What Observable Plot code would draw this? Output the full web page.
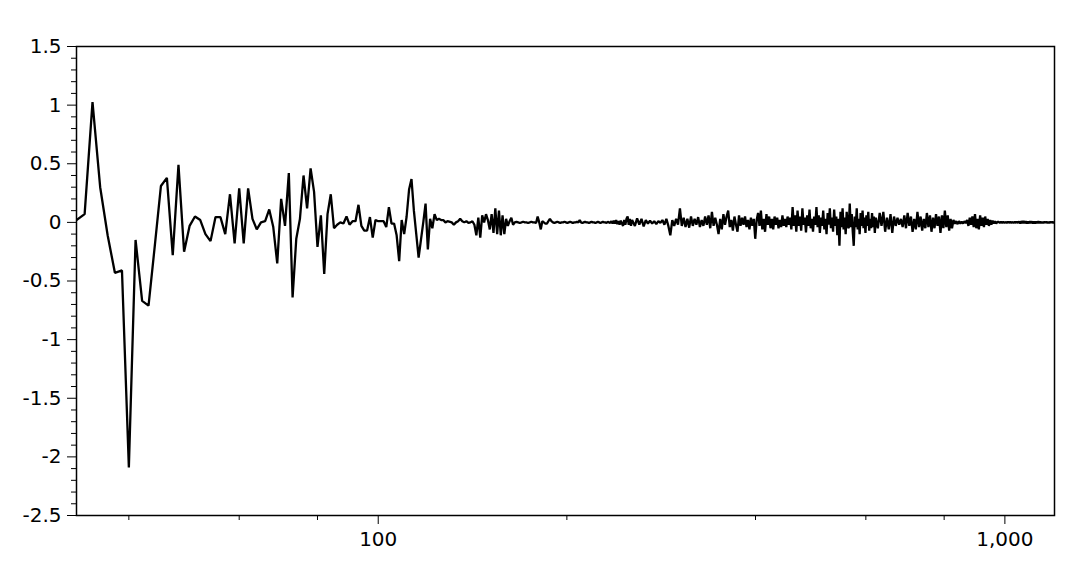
<!DOCTYPE html>
<html>
<head>
<meta charset="utf-8">
<script src="https://cdn.jsdelivr.net/npm/d3@7"></script>
<script src="https://cdn.jsdelivr.net/npm/@observablehq/plot@0.6"></script>
<style>
  html, body { margin: 0; padding: 0; background: #fff; }
</style>
</head>
<body>
<div id="chart"></div>
<script>
// Segment start x-values and sampling steps (x positions of the series)
const segStarts = [33, 131, 256.8, 627];
const segSteps  = [1, 1.035, 2.1, 4.27];

// x = 33 .. 129
const segA = [0.02,0.07,1.025,0.30,-0.11,-0.43,-0.41,-2.09,-0.15,-0.67,
  -0.71,-0.2,0.31,0.38,-0.28,0.49,-0.25,-0.03,0.05,0.02,
  -0.10,-0.16,0.045,0.045,-0.10,0.24,-0.18,0.29,-0.18,0.29,
  0.03,-0.06,0.00,0.01,0.11,-0.04,-0.35,0.2,-0.03,0.42,
  -0.64,-0.14,0.03,0.40,0.12,0.46,0.26,-0.21,0.06,-0.44,
  0.07,0.24,-0.05,-0.02,0.0,-0.01,0.05,-0.02,0.01,0.01,
  0.15,-0.03,-0.07,-0.07,0.045,-0.13,0.02,0.01,0.01,0.01,
  -0.04,0.13,-0.01,-0.01,-0.11,-0.33,0.02,-0.1,0.05,0.28,
  0.37,0.1,-0.1,-0.30,-0.15,0.0,0.16,-0.23,0.03,-0.05,
  0.07,0.02,0.03,0.02,0.02,0.0,0.01];

// x ≈ 131 .. 254
const segB = [0.0,-0.02,0.0,0.01,0.03,0.01,0.0,0.01,-0.005,0.0,
  0.01,-0.02,-0.11,0.04,-0.13,0.06,0.0,0.07,0.02,-0.06,
  0.07,-0.09,0.12,-0.10,0.10,-0.11,0.06,-0.10,0.03,-0.03,
  0.01,0.04,-0.02,0.0,0.005,0.0,-0.005,0.0,0.005,0.0,
  0.0,-0.005,0.0,0.005,0.0,0.0,-0.005,0.05,0.0,-0.06,
  0.01,0.0,-0.01,-0.01,0.01,0.03,0.01,0.0,-0.005,0.0,
  0.005,0.0,-0.005,0.0,0.0,0.005,0.0,-0.005,0.0,0.005,
  0.0,-0.005,0.0,0.0,0.005,0.0,0.02,0.0,-0.005,0.0,
  0.005,0.0,0.0,-0.005,0.0,0.005,0.0,0.0,-0.005,0.0,
  0.005,0.0,-0.005,0.0,0.005,0.0,0.0,-0.005,0.005,0.0,
  -0.005,0.01,-0.01,0.015,-0.01,0.02,-0.015,0.01,-0.02,0.015,
  -0.01,-0.03,0.02,-0.02,0.03,0.05,-0.02,0.03,-0.03,0.02];

// x ≈ 257 .. 622
const segC = [-0.03,0.035,-0.02,0.03,-0.035,0.02,-0.01,0.015,-0.01,0.01,
  -0.015,0.01,-0.005,0.02,-0.02,0.03,-0.03,-0.11,0.02,-0.03,
  0.03,-0.02,0.12,-0.03,0.04,-0.04,0.03,-0.045,0.05,-0.03,
  0.03,-0.02,0.045,-0.04,0.02,-0.03,0.05,-0.02,0.06,-0.05,
  0.09,-0.03,0.04,-0.02,-0.10,0.03,-0.06,0.07,-0.02,0.05,
  0.10,-0.04,0.02,-0.07,0.05,-0.02,-0.08,0.06,-0.03,0.04,
  -0.02,0.05,-0.04,0.02,-0.06,0.04,-0.03,0.03,-0.14,0.02,
  0.08,-0.03,0.10,-0.06,0.03,-0.08,0.07,-0.02,0.05,-0.05,
  0.03,-0.06,0.05,-0.02,0.04,-0.05,0.02,-0.04,0.06,-0.03,
  0.03,-0.04,0.05,-0.02,0.04,-0.06,0.13,-0.03,0.06,-0.08,
  0.10,-0.03,0.05,-0.07,0.12,-0.02,0.04,-0.085,0.06,-0.03,
  0.11,-0.05,0.03,-0.08,0.05,-0.02,0.13,-0.04,0.06,-0.09,
  0.04,-0.03,0.10,-0.06,0.03,-0.10,0.08,-0.02,0.12,-0.05,
  0.04,-0.08,0.11,-0.03,0.05,-0.11,0.03,-0.20,0.09,-0.04,
  0.12,-0.06,0.04,-0.10,0.09,-0.03,-0.05,0.16,-0.04,0.07,
  -0.08,-0.20,0.05,-0.04,0.12,-0.06,0.03,-0.10,0.08,-0.03,
  0.10,-0.05,0.04,-0.09,0.06,-0.03,0.09,-0.07,0.03,-0.05,
  0.08,-0.04,0.05,-0.09,0.04];

// x ≈ 627 .. 1208
const segD = [-0.05,0.08,-0.03,0.09,-0.08,0.04,-0.06,0.07,-0.09,0.05,
  -0.03,0.04,-0.02,0.03,-0.04,
  0.06,-0.05,0.08,-0.03,0.05,-0.08,0.03,-0.06,0.09,-0.04,
  0.05,-0.07,0.03,-0.05,0.08,-0.04,0.06,-0.08,0.04,-0.05,
  0.07,-0.03,0.05,-0.09,0.06,-0.05,0.10,-0.04,0.06,-0.07,0.03,-0.05,
  0.02,-0.01,0.01,-0.015,0.01,-0.01,0.005,-0.01,0.01,-0.005,
  0.02,-0.03,0.04,-0.02,0.05,-0.04,0.07,-0.05,0.03,-0.06,0.06,-0.03,0.04,-0.04,0.05,-0.02,0.03,-0.03,0.02,-0.02,0.015,-0.01,0.01,-0.01,0.005,
  0.004,-0.004,0.005,-0.003,0.004,-0.005,0.003,-0.004,0.005,-0.003,0.004,-0.004,0.003,-0.005,0.004,-0.003,0.005,-0.004,
  0.008,-0.01,0.01,-0.006,0.012,-0.008,0.01,-0.01,0.006,-0.008,0.01,-0.006,0.008,-0.01,0.006,-0.008,0.007,-0.006,0.008,-0.005,
  0.004,-0.004,0.003,-0.004,0.004,-0.003,0.004,-0.004,0.003,-0.004,0.004,-0.003,0.004,-0.004,0.003,-0.003,0.0];

// Tick values and labels
const yMajor = [-2.5, -2, -1.5, -1, -0.5, 0, 0.5, 1, 1.5];
const xMajor = [100, 1000];
const xMajorLabels = ["100", "1,000"];
const xMinor = [40, 60, 80, 200, 400, 600, 800];

const segments = [segA, segB, segC, segD];
const data = segments.flatMap((vals, s) =>
  vals.map((v, i) => ({x: segStarts[s] + i * segSteps[s], y: v})));

const yMinor = d3.range(-25, 16).map(d => d / 10).filter(d => !yMajor.some(m => Math.abs(m - d) < 1e-9));

const chart = Plot.plot({
  width: 1070,
  height: 579,
  marginLeft: 76,
  marginRight: 16,
  marginTop: 46,
  marginBottom: 64,
  style: {fontFamily: "DejaVu Sans", fontSize: "20px", background: "white", color: "black"},
  x: {type: "log", domain: [33, 1200], label: null, axis: null},
  y: {domain: [-2.5, 1.5], label: null, axis: null},
  marks: [
    Plot.axisY(yMinor, {anchor: "left", tickSize: 5, tickFormat: () => "", label: null}),
    Plot.axisY(yMajor, {anchor: "left", tickSize: 9, tickPadding: 6, tickFormat: d => String(d), label: null}),
    Plot.axisX(xMinor, {anchor: "bottom", tickSize: 5, tickFormat: () => "", label: null}),
    Plot.axisX(xMajor, {anchor: "bottom", tickSize: 9, tickPadding: 7,
      tickFormat: d => xMajorLabels[xMajor.indexOf(d)], label: null}),
    Plot.line(data, {x: "x", y: "y", stroke: "black", strokeWidth: 2.3, strokeLinejoin: "miter", clip: true}),
    Plot.frame({stroke: "black", strokeWidth: 1.5})
  ]
});
document.getElementById("chart").appendChild(chart);
</script>
</body>
</html>
